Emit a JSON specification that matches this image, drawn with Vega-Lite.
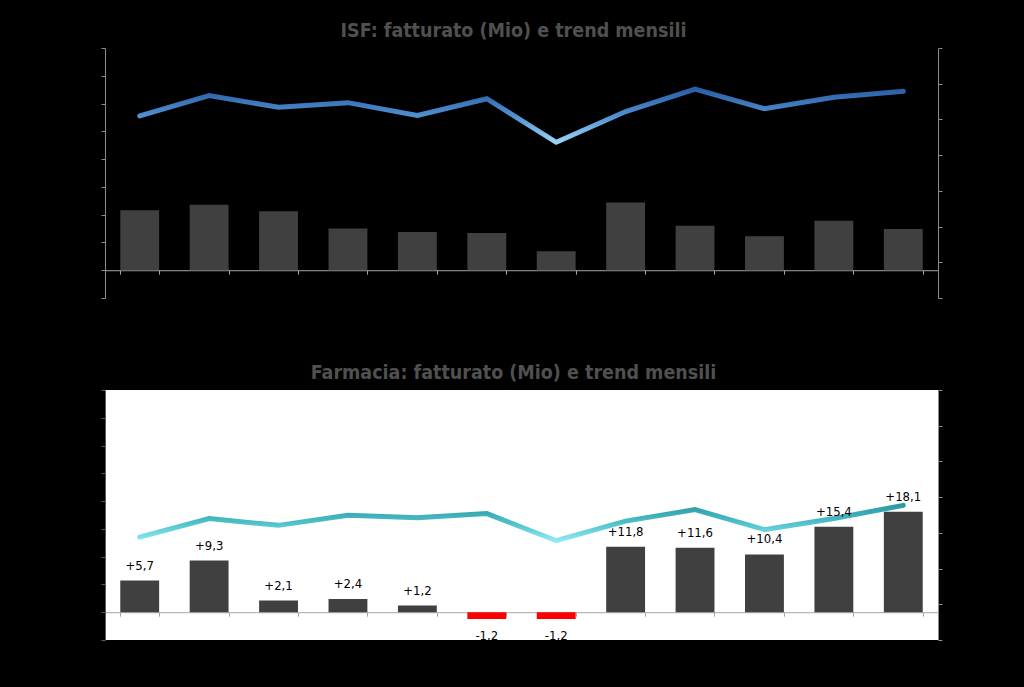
{
  "$schema": "https://vega.github.io/schema/vega-lite/v6.json",
  "background": "black",
  "padding": {"left": 100, "top": 21, "right": 83, "bottom": 46},
  "spacing": 64,
  "config": {
    "view": {"stroke": null},
    "locale": {"number": {"decimal": ",", "thousands": ".", "grouping": [3], "currency": ["€", ""], "minus": "-"}},
    "title": {"font": "DejaVu Sans Condensed, Roboto, sans-serif", "fontSize": 19.5, "fontWeight": "bold", "color": "#505050", "baseline": "alphabetic", "offset": 5.6, "dx": -8, "anchor": "middle"},
    "axis": {"domainColor": "#8c8c8c", "tickColor": "#8c8c8c", "tickSize": 4, "labels": false, "title": null, "grid": false}
  },
  "datasets": {
    "isf": [
      {"mese": "Gen", "fatturato": 10.8, "trend": 5.10},
      {"mese": "Feb", "fatturato": 11.8, "trend": 5.67},
      {"mese": "Mar", "fatturato": 10.6, "trend": 5.34},
      {"mese": "Apr", "fatturato": 7.5, "trend": 5.47},
      {"mese": "Mag", "fatturato": 6.9, "trend": 5.11},
      {"mese": "Giu", "fatturato": 6.7, "trend": 5.58},
      {"mese": "Lug", "fatturato": 3.4, "trend": 4.36},
      {"mese": "Ago", "fatturato": 12.2, "trend": 5.22},
      {"mese": "Set", "fatturato": 8.0, "trend": 5.85},
      {"mese": "Ott", "fatturato": 6.1, "trend": 5.30},
      {"mese": "Nov", "fatturato": 8.9, "trend": 5.62},
      {"mese": "Dic", "fatturato": 7.4, "trend": 5.79}
    ],
    "farmacia": [
      {"mese": "Gen", "fatturato": 5.7, "trend": 2.88},
      {"mese": "Feb", "fatturato": 9.3, "trend": 3.40},
      {"mese": "Mar", "fatturato": 2.1, "trend": 3.21},
      {"mese": "Apr", "fatturato": 2.4, "trend": 3.49},
      {"mese": "Mag", "fatturato": 1.2, "trend": 3.42},
      {"mese": "Giu", "fatturato": -1.2, "trend": 3.54},
      {"mese": "Lug", "fatturato": -1.2, "trend": 2.78},
      {"mese": "Ago", "fatturato": 11.8, "trend": 3.33},
      {"mese": "Set", "fatturato": 11.6, "trend": 3.65},
      {"mese": "Ott", "fatturato": 10.4, "trend": 3.09},
      {"mese": "Nov", "fatturato": 15.4, "trend": 3.40},
      {"mese": "Dic", "fatturato": 18.1, "trend": 3.77}
    ]
  },
  "vconcat": [
    {
      "title": {"text": "ISF: fatturato (Mio) e trend mensili"},
      "width": 833,
      "height": 250,
      "data": {"name": "isf"},
      "encoding": {
        "x": {"field": "mese", "type": "nominal", "sort": null,
              "scale": {"paddingInner": 0.44, "paddingOuter": 0.22},
              "axis": {"tickBand": "extent", "offset": -27.78, "domainColor": "#a6a6a6", "tickColor": "#a6a6a6"}}
      },
      "layer": [
        {
          "mark": {"type": "bar", "color": "#404040"},
          "encoding": {
            "y": {"field": "fatturato", "type": "quantitative", "scale": {"domain": [-5, 40], "nice": false},
                  "axis": {"orient": "left", "values": [-5, 0, 5, 10, 15, 20, 25, 30, 35, 40]}}
          }
        },
        {
          "mark": {"type": "line", "strokeWidth": 5, "strokeCap": "round",
                   "stroke": {"gradient": "linear", "x1": 0, "y1": 0, "x2": 0, "y2": 1,
                              "stops": [{"offset": 0, "color": "#2a5ea6"}, {"offset": 0.5, "color": "#4f8fd0"}, {"offset": 1, "color": "#9cd4f8"}]}},
          "encoding": {
            "y": {"field": "trend", "type": "quantitative", "scale": {"domain": [0, 7], "nice": false},
                  "axis": {"orient": "right", "values": [0, 1, 2, 3, 4, 5, 6, 7]}}
          }
        }
      ],
      "resolve": {"scale": {"y": "independent"}, "axis": {"y": "independent"}}
    },
    {
      "title": {"text": "Farmacia: fatturato (Mio) e trend mensili"},
      "width": 833,
      "height": 250,
      "data": {"name": "farmacia"},
      "view": {"fill": "white", "stroke": null},
      "encoding": {
        "x": {"field": "mese", "type": "nominal", "sort": null,
              "scale": {"paddingInner": 0.44, "paddingOuter": 0.22},
              "axis": {"tickBand": "extent", "offset": -27.78, "domainColor": "#a6a6a6", "tickColor": "#a6a6a6"}}
      },
      "layer": [
        {
          "mark": {"type": "bar"},
          "encoding": {
            "y": {"field": "fatturato", "type": "quantitative", "scale": {"domain": [-5, 40], "nice": false},
                  "axis": {"orient": "left", "values": [-5, 0, 5, 10, 15, 20, 25, 30, 35, 40], "domainColor": "#595959", "tickColor": "#595959"}},
            "color": {"condition": {"test": "datum.fatturato < 0", "value": "#ff0000"}, "value": "#404040"}
          }
        },
        {
          "mark": {"type": "line", "strokeWidth": 5, "strokeCap": "round",
                   "stroke": {"gradient": "linear", "x1": 0, "y1": 0, "x2": 0, "y2": 1,
                              "stops": [{"offset": 0, "color": "#2a9aa3"}, {"offset": 0.5, "color": "#4fc1ca"}, {"offset": 1, "color": "#8fe9f3"}]}},
          "encoding": {
            "y": {"field": "trend", "type": "quantitative", "scale": {"domain": [0, 7], "nice": false},
                  "axis": {"orient": "right", "values": [0, 1, 2, 3, 4, 5, 6, 7]}}
          }
        },
        {
          "transform": [{"filter": "datum.fatturato >= 0"}],
          "mark": {"type": "text", "dy": -15, "baseline": "middle", "font": "DejaVu Sans Condensed, Roboto, sans-serif", "fontSize": 13, "color": "black"},
          "encoding": {
            "y": {"field": "fatturato", "type": "quantitative", "scale": {"domain": [-5, 40], "nice": false}, "axis": null},
            "text": {"field": "fatturato", "type": "quantitative", "format": "+.1f"}
          }
        },
        {
          "transform": [{"filter": "datum.fatturato < 0"}],
          "mark": {"type": "text", "dy": 17, "baseline": "middle", "clip": true, "font": "DejaVu Sans Condensed, Roboto, sans-serif", "fontSize": 13, "color": "black"},
          "encoding": {
            "y": {"field": "fatturato", "type": "quantitative", "scale": {"domain": [-5, 40], "nice": false}, "axis": null},
            "text": {"field": "fatturato", "type": "quantitative", "format": "+.1f"}
          }
        }
      ],
      "resolve": {"scale": {"y": "independent"}, "axis": {"y": "independent"}}
    }
  ]
}
